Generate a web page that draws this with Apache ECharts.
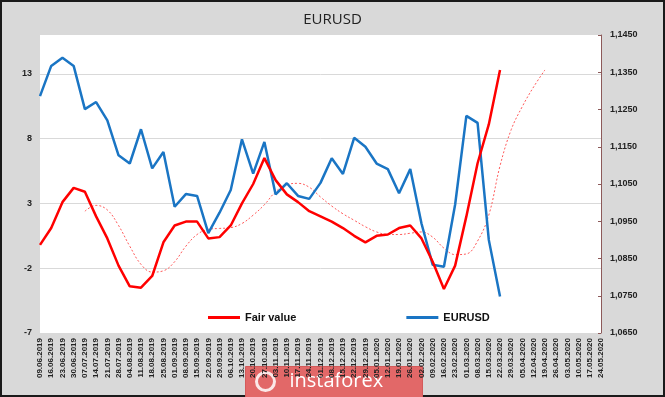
<!DOCTYPE html>
<html>
<head>
<meta charset="utf-8">
<title>EURUSD</title>
<script src="https://cdn.jsdelivr.net/npm/echarts@6/dist/echarts.min.js"></script>
<style>
  html, body { margin: 0; padding: 0; background: #d9d9d9; }
  #main { width: 665px; height: 397px; }
</style>
</head>
<body>
<div id="main"></div>
<script>
// weekly dates
var dates = [
    '09.06.2019','16.06.2019','23.06.2019','30.06.2019','07.07.2019','14.07.2019','21.07.2019','28.07.2019',
    '04.08.2019','11.08.2019','18.08.2019','25.08.2019','01.09.2019','08.09.2019','15.09.2019','22.09.2019',
    '29.09.2019','06.10.2019','13.10.2019','20.10.2019','27.10.2019','03.11.2019','10.11.2019','17.11.2019',
    '24.11.2019','01.12.2019','08.12.2019','15.12.2019','22.12.2019','29.12.2019','05.01.2020','12.01.2020',
    '19.01.2020','26.01.2020','02.02.2020','09.02.2020','16.02.2020','23.02.2020','01.03.2020','08.03.2020',
    '15.03.2020','22.03.2020','29.03.2020','05.04.2020','12.04.2020','19.04.2020','26.04.2020','03.05.2020',
    '10.05.2020','17.05.2020','24.05.2020'
];

var fairValue = [
    -0.2, 1.1, 3.1, 4.2, 3.9, 2.0, 0.3, -1.8, -3.4, -3.5, -2.6, 0.0, 1.3, 1.6, 1.6, 0.3,
    0.4, 1.3, 3.0, 4.5, 6.5, 4.8, 3.7, 3.1, 2.4, 2.0, 1.6, 1.1, 0.5, 0.0, 0.5, 0.6,
    1.1, 1.3, 0.3, -1.5, -3.6, -1.8, 2.0, 6.1, 9.1, 13.3
];

// smoothed fair value, shifted forward
var fairTrend = [
    null, null, null, null, 2.4, 2.85, 2.5, 1.3, -0.3, -1.7, -2.3, -2.2, -1.5, -0.3, 0.6, 1.0,
    1.07, 1.13, 1.45, 2.1, 2.9, 3.9, 4.45, 4.55, 4.25, 3.5, 2.8, 2.2, 1.7, 1.2, 0.8, 0.6,
    0.6, 0.7, 0.8, 0.4, -0.45, -0.95, -0.9, 0.1, 2.1, 5.9, 8.7, 10.5, 12.0, 13.3
];

var eurusd = [
    1.1286, 1.1367, 1.1389, 1.1367, 1.1251, 1.1270, 1.1221, 1.1127, 1.1105, 1.1197, 1.1092, 1.1136,
    1.0989, 1.1023, 1.1018, 1.0918, 1.0973, 1.1034, 1.1170, 1.1078, 1.1163, 1.1022, 1.1052, 1.1018,
    1.1010, 1.1053, 1.1119, 1.1077, 1.1174, 1.1150, 1.1105, 1.1090, 1.1025, 1.1090, 1.0944, 1.0833,
    1.0828, 1.0995, 1.1233, 1.1214, 1.0900, 1.0748
];

var font = 'Liberation Sans, Arial, sans-serif';

var option = {
    backgroundColor: '#d9d9d9',
    animation: false,
    title: {
        text: 'EURUSD',
        left: 'center',
        top: 7,
        textStyle: { fontFamily: 'Open Sans, sans-serif', fontSize: 15, fontWeight: 'normal', color: '#222' }
    },
    legend: {
        data: ['Fair value', 'EURUSD'],
        left: 203,
        top: 307,
        icon: 'rect',
        itemWidth: 32,
        itemHeight: 3,
        itemGap: 110,
        textStyle: { fontFamily: font, fontSize: 11, fontWeight: 'bold', color: '#111' }
    },
    grid: {
        left: 40, right: 64, top: 35, bottom: 64,
        show: true, backgroundColor: '#fff', borderWidth: 0
    },
    xAxis: {
        type: 'category',
        data: dates,
        boundaryGap: false,
        axisLine: { show: false },
        axisTick: { show: false },
        axisLabel: {
            interval: 0, rotate: 90, margin: 5,
            fontFamily: font, fontSize: 8, fontWeight: 'bold', color: '#222'
        }
    },
    yAxis: [{
        type: 'value',
        min: -7, max: 16, interval: 5,
        axisLine: { show: false },
        axisTick: { show: false },
        axisLabel: {
            showMaxLabel: false, margin: 8,
            fontFamily: font, fontSize: 9, fontWeight: 'bold', color: '#222'
        },
        splitLine: { showMinLine: false, showMaxLine: false, lineStyle: { color: '#d9d9d9', width: 1 } }
    }, {
        type: 'value',
        position: 'right',
        min: 1.065, max: 1.145, interval: 0.01,
        axisLine: { show: true, lineStyle: { color: '#8c5a5a', width: 1 } },
        axisTick: { show: true, inside: true, length: 3, lineStyle: { color: '#8c5a5a' } },
        axisLabel: {
            margin: 9,
            fontFamily: font, fontSize: 9, fontWeight: 'bold', color: '#222',
            formatter: function (v) { return v.toFixed(4).replace('.', ','); }
        },
        splitLine: { show: false }
    }],
    series: [
        {
            name: 'Fair trend',
            type: 'line',
            yAxisIndex: 0,
            data: fairTrend,
            smooth: 0.4,
            showSymbol: false,
            lineStyle: { color: '#ff5a5a', width: 1, type: [2, 2] },
            z: 1
        },
        {
            name: 'Fair value',
            type: 'line',
            yAxisIndex: 0,
            data: fairValue,
            showSymbol: false,
            itemStyle: { color: '#ff0000' },
            lineStyle: { color: '#ff0000', width: 2.5 },
            z: 3
        },
        {
            name: 'EURUSD',
            type: 'line',
            yAxisIndex: 1,
            data: eurusd,
            showSymbol: false,
            itemStyle: { color: '#1a75c4' },
            lineStyle: { color: '#1a75c4', width: 2.5 },
            z: 2
        }
    ],
    graphic: [
        {
            type: 'rect',
            shape: { x: 1, y: 1, width: 663, height: 395 },
            style: { fill: 'none', stroke: '#1a1a1a', lineWidth: 2 },
            silent: true
        },
        {
            type: 'group',
            left: 245, top: 366,
            children: [
                {
                    type: 'rect',
                    shape: { x: 0, y: 0, width: 177, height: 32 },
                    style: { fill: '#e26868', stroke: '#d45a5a', lineWidth: 1 }
                },
                {
                    type: 'circle',
                    shape: { cx: 20, cy: 15, r: 9 },
                    style: { fill: 'none', stroke: 'rgba(255,255,255,0.85)', lineWidth: 3 }
                },
                {
                    type: 'text',
                    x: 44, y: 5,
                    style: { text: 'instaforex', fill: '#fff', fontSize: 20, fontFamily: 'Open Sans, sans-serif' }
                }
            ]
        }
    ]
};

var myChart = echarts.init(document.getElementById('main'));
myChart.setOption(option);
</script>
</body>
</html>
